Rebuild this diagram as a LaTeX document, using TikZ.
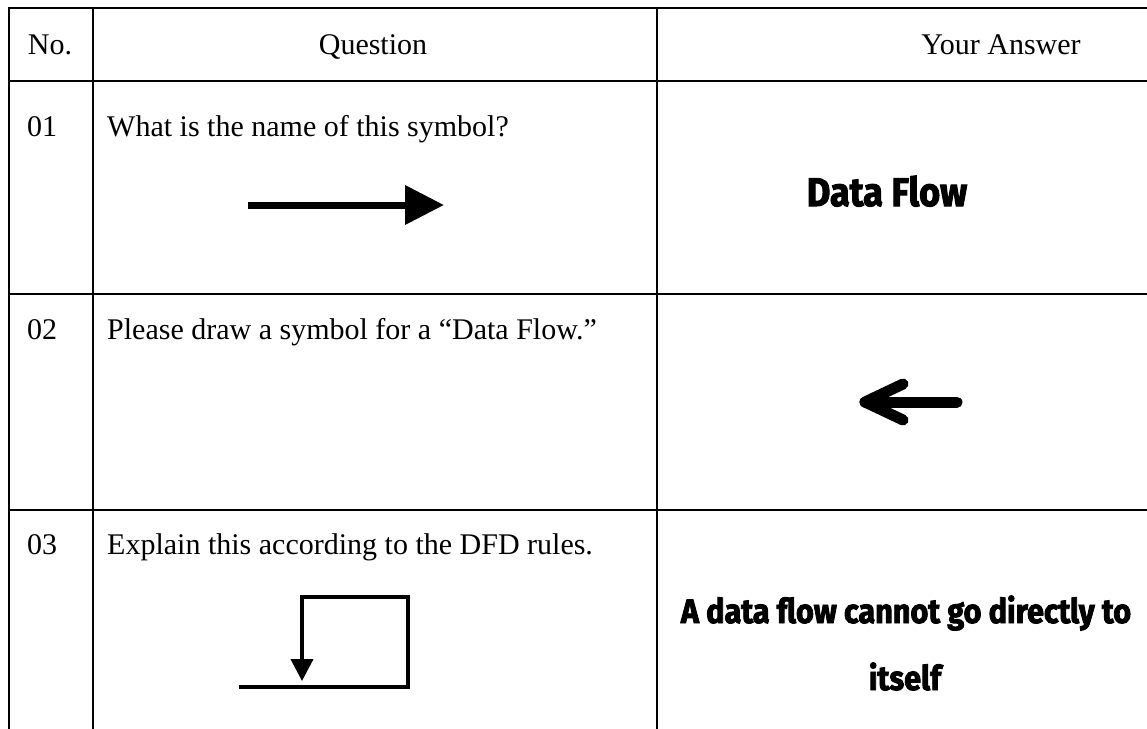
\documentclass[tikz,border=0pt]{standalone}
\usepackage{fontspec}
\setmainfont{Liberation Serif}
\newfontfamily\handfont[FakeStretch=0.9, FakeBold=2.5]{Fira Sans}
\usetikzlibrary{arrows.meta}
\tikzset{
  grid/.style={line width=2pt},
  serif/.style={font=\fontsize{30}{36}\selectfont, inner sep=0pt, anchor=base west},
  serifc/.style={font=\fontsize{30}{36}\selectfont, inner sep=0pt, anchor=base},
  hand/.style={font=\handfont\bfseries\fontsize{40}{44}\selectfont, inner sep=0pt, anchor=base},
  handsm/.style={font=\handfont\bfseries\fontsize{34}{40}\selectfont, inner sep=0pt, anchor=base},
  symb/.style={line width=7pt, -{Triangle[length=39pt,width=38pt]}},
  loopline/.style={line width=4pt, line join=miter, -{Triangle[length=22pt,width=22pt]}},
  sketch/.style={line width=11pt, line cap=round, line join=round},
}
\begin{document}
\begin{tikzpicture}[x=1pt,y=-1pt]
\useasboundingbox (0,0) rectangle (1147,728);
% table grid
\draw[grid] (9,7.5) -- (1150,7.5);
\draw[grid] (9,81) -- (1150,81);
\draw[grid] (9,294) -- (1150,294);
\draw[grid] (9,510) -- (1150,510);
\draw[grid] (9,6.5) -- (9,730);
\draw[grid] (93,6.5) -- (93,730);
\draw[grid] (657,6.5) -- (657,730);
% header
\node[serifc] (hno) at (50,54) {No.};
\node[serifc] (hq) at (373,54) {Question};
\node[serifc] (ha) at (1001,54) {Your Answer};
% row 1
\node[serif] (n1) at (27,136) {01};
\node[serif] (q1) at (107,136) {What is the name of this symbol?};
\coordinate (a1s) at (248,205);
\coordinate (a1e) at (444,205);
\draw[symb] (a1s) -- (a1e);
\node[hand] (ans1) at (887,206) {Data Flow};
% row 2
\node[serif] (n2) at (27,339) {02};
\node[serif] (q2) at (107,339) {Please draw a symbol for a “Data Flow.”};
\coordinate (a2s) at (957,402);
\coordinate (a2t) at (865,402);
\coordinate (a2u) at (903,384);
\coordinate (a2d) at (903,420);
\draw[sketch] (a2s) -- (a2t);
\draw[sketch] (a2u) -- (a2t) -- (a2d);
% row 3
\node[serif] (n3) at (27,554) {03};
\node[serif] (q3) at (107,554) {Explain this according to the DFD rules.};
\coordinate (l0) at (239,687);
\coordinate (l1) at (408,687);
\coordinate (l2) at (408,597);
\coordinate (l3) at (302,597);
\coordinate (l4) at (302,681);
\draw[loopline] (l0) -- (l1) -- (l2) -- (l3) -- (l4);
\node[handsm] (ans3a) at (906,623) {A data flow cannot go directly to};
\node[handsm] (ans3b) at (905,690) {itself};
\end{tikzpicture}
\end{document}
